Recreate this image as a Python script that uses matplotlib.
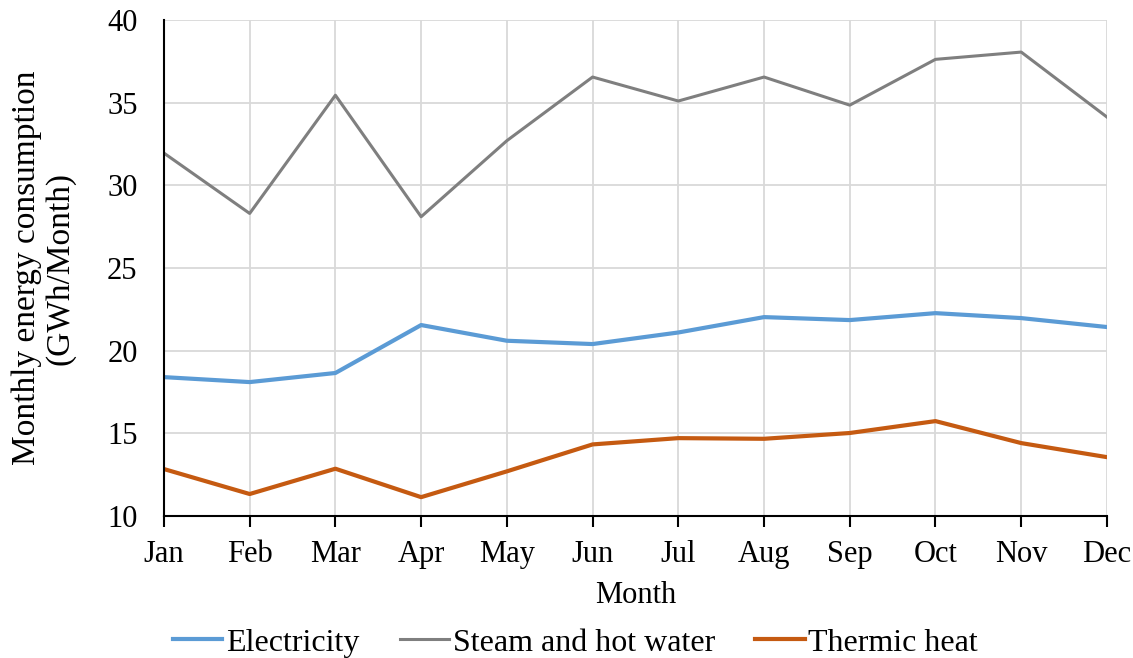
import matplotlib

matplotlib.use("Agg")
import matplotlib.pyplot as plt

plt.rcParams["font.family"] = ["Liberation Serif", "DejaVu Serif"]

months = ["Jan", "Feb", "Mar", "Apr", "May", "Jun",
          "Jul", "Aug", "Sep", "Oct", "Nov", "Dec"]
electricity = [18.4, 18.1, 18.65, 21.55, 20.6, 20.4,
               21.1, 22.03, 21.85, 22.27, 21.97, 21.43]
steam_hot_water = [31.95, 28.3, 35.45, 28.1, 32.7, 36.55,
                   35.1, 36.55, 34.85, 37.62, 38.06, 34.13]
thermic_heat = [12.84, 11.33, 12.86, 11.14, 12.7, 14.33,
                14.71, 14.67, 15.02, 15.74, 14.41, 13.56]

fig = plt.figure(figsize=(11.33, 6.58), dpi=100)
ax = fig.add_axes([0.1447, 0.2158, 0.8323, 0.7538])

x = list(range(len(months)))
ax.plot(x, electricity, color="#5B9BD5", lw=3, label="Electricity")
ax.plot(x, steam_hot_water, color="#7F7F7F", lw=2.2, label="Steam and hot water")
ax.plot(x, thermic_heat, color="#C55A11", lw=3, label="Thermic heat")

ax.set_xlim(0, len(months) - 1)
ax.set_ylim(10, 40)
ax.set_yticks(range(10, 41, 5))
ax.set_xticks(x)
ax.set_xticklabels(months)
ax.grid(True, color="#d9d9d9", lw=1.3)
ax.set_axisbelow(True)

for side in ("top", "right"):
    ax.spines[side].set_visible(False)
for side in ("left", "bottom"):
    ax.spines[side].set_color("black")
    ax.spines[side].set_linewidth(1.5)

ax.tick_params(axis="x", direction="out", length=8, width=1.5, pad=9, labelsize=22)
ax.tick_params(axis="y", length=0, pad=19, labelsize=22)

ax.set_xlabel("Month", fontsize=22, labelpad=9)
ax.set_ylabel("Monthly energy consumption\n(GWh/Month)", fontsize=24, linespacing=1.1)
ax.yaxis.set_label_coords(-0.094, 0.5)

# legend row sits along the bottom edge of the figure
ax.legend(loc="center", bbox_to_anchor=(0.508, 0.023), bbox_transform=fig.transFigure,
          ncol=3, frameon=False, fontsize=23, handlelength=1.55,
          columnspacing=1.25, handletextpad=0.12, borderaxespad=0, borderpad=0)

fig.savefig("out.png", dpi=100)
